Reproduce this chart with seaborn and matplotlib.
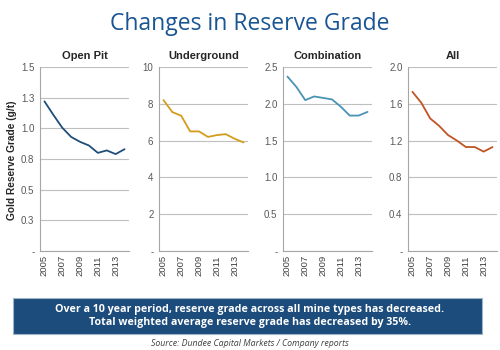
import numpy as np
import pandas as pd
import matplotlib.pyplot as plt
import matplotlib.ticker as mticker
import seaborn as sns

years = list(range(2005, 2015))
open_pit = [1.22, 1.11, 1.005, 0.93, 0.89, 0.86, 0.80, 0.82, 0.79, 0.83]
underground = [8.2, 7.55, 7.35, 6.5, 6.5, 6.2, 6.3, 6.35, 6.1, 5.9]
combination = [2.37, 2.23, 2.05, 2.10, 2.08, 2.06, 1.96, 1.84, 1.84, 1.89]
all_mines = [1.73, 1.61, 1.44, 1.36, 1.26, 1.20, 1.13, 1.13, 1.08, 1.13]

panels = [
    ("Open Pit", open_pit, "#1f4e7a", 1.5, 0.25),
    ("Underground", underground, "#d49c1c", 10, 2),
    ("Combination", combination, "#4b93b5", 2.5, 0.5),
    ("All", all_mines, "#bf5424", 2.0, 0.4),
]

sns.set_style("white")
plt.rcParams["font.family"] = ["Liberation Sans", "DejaVu Sans"]

fig = plt.figure(figsize=(5, 3.5), dpi=100)

lefts = [40, 159, 283, 408]
width = 89
top, bottom = 67, 251

for left, (title, vals, color, ymax, step) in zip(lefts, panels):
    ax = fig.add_axes([left / 500, 1 - bottom / 350, width / 500, (bottom - top) / 350])
    df = pd.DataFrame({"pos": np.arange(len(years)), "value": vals})
    sns.lineplot(data=df, x="pos", y="value", ax=ax, color=color, linewidth=1.3)

    ax.set_xlim(-0.5, len(years) - 0.5)
    ax.set_ylim(0, ymax)
    yt = np.arange(0, ymax + step / 2, step)
    ax.set_yticks(yt)
    fmt = "{:.1f}" if step < 1 else "{:.0f}"
    ax.set_yticklabels(["-"] + [fmt.format(v + 1e-9) for v in yt[1:]])
    ax.yaxis.grid(True, color="#bfbfbf", linewidth=0.8)

    ax.set_xticks(np.arange(0, len(years), 2))
    ax.set_xticklabels([str(y) for y in years[::2]], rotation=90)
    ax.xaxis.set_minor_locator(mticker.FixedLocator(np.arange(-0.5, len(years), 1)))
    ax.tick_params(axis="x", which="major", length=0, labelsize=6.8, colors="#404040", pad=3)
    ax.tick_params(axis="x", which="minor", length=3, color="#a6a6a6", width=0.8)
    ax.tick_params(axis="y", length=0, labelsize=7, colors="#595959", pad=4)

    for s in ["top", "right"]:
        ax.spines[s].set_visible(False)
    for s in ["left", "bottom"]:
        ax.spines[s].set_color("#a6a6a6")
        ax.spines[s].set_linewidth(0.8)

    ax.set_xlabel("")
    ax.set_ylabel("")
    ax.set_title(title, fontsize=8, fontweight="bold", pad=6)

fig.text(0.024, 1 - 160 / 350, "Gold Reserve Grade (g/t)", rotation=90,
         ha="center", va="center", fontsize=7.3, fontweight="bold")

fig.text(0.5, 1 - 24 / 350, "Changes in Reserve Grade", ha="center", va="center",
         fontsize=16.5, color="#1a5593", family=["Open Sans", "DejaVu Sans"])

box = plt.Rectangle((13 / 500, 1 - 334 / 350), 469 / 500, 36 / 350,
                    transform=fig.transFigure, facecolor="#1c4c7c",
                    edgecolor="#9fb4c8", linewidth=0.8)
fig.patches.append(box)
fig.text(0.5, 1 - 316 / 350,
         "Over a 10 year period, reserve grade across all mine types has decreased.\n"
         "Total weighted average reserve grade has decreased by 35%.",
         ha="center", va="center", fontsize=7.7, fontweight="bold", color="white",
         linespacing=1.3, family=["Open Sans", "DejaVu Sans"])
fig.text(0.5, 1 - 343 / 350, "Source: Dundee Capital Markets / Company reports",
         ha="center", va="center", fontsize=6.3, style="italic", color="#404040",
         family=["Open Sans", "DejaVu Sans"])

fig.savefig("out.png", dpi=100)
